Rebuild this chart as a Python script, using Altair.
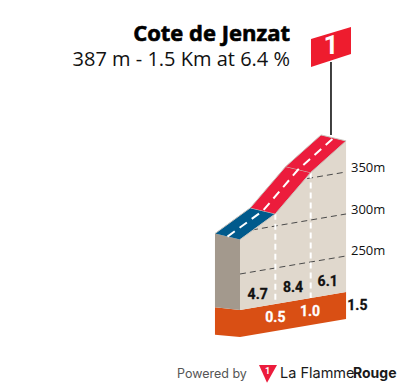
import altair as alt
import pandas as pd

# profile
km = [0, 0.5, 1.0, 1.5]
alt_m = [291, 314.5, 356.5, 387]
grades = ["4.7", "8.4", "6.1"]
km_marks = ["0.5", "1.0"]
total = "1.5"
SKEW = 14.3      # metres of screen rise per km (oblique view)
DX, DY = -0.354, 7.1   # depth offset of the road's back edge
BASE, BOTTOM = 207, 175
RED, BLUE, WALL, SIDE, ORANGE = "#ec1c3c", "#005a8c", "#e0d8cd", "#a3998d", "#d94f14"
H = 375

X = alt.Scale(domain=[-3.2815, 2.2207], range=[0, 389])
Y = alt.Scale(domain=[566.67 - H / 0.84, 566.67], range=[H, 0])


def pts(rows):
    return pd.DataFrame([
        {"i": i, "x": k + d * DX, "y": m + SKEW * k + d * DY}
        for i, (k, m, d) in enumerate(rows)
    ])


def poly(rows, fill, stroke=None, sw=0):
    kw = dict(fill=fill, strokeWidth=sw, stroke=stroke or fill, clip=False)
    return alt.Chart(pts(rows)).mark_line(**kw).encode(
        x=alt.X("x:Q", scale=X, axis=None),
        y=alt.Y("y:Q", scale=Y, axis=None),
        order="i:Q",
    )


def seg(rows, color, dash=None, sw=1.0):
    kw = dict(color=color, strokeWidth=sw)
    if dash:
        kw["strokeDash"] = dash
    return alt.Chart(pts(rows)).mark_line(**kw).encode(
        x=alt.X("x:Q", scale=X, axis=None),
        y=alt.Y("y:Q", scale=Y, axis=None),
        order="i:Q",
    )


def txt(rows, size, color, weight="normal", font="Roboto", align="center", stroke=0):
    df = pd.DataFrame([{"x": k, "y": m + SKEW * k, "t": t} for k, m, t in rows])
    return alt.Chart(df).mark_text(
        fontSize=size, color=color, fontWeight=weight, font=font, align=align, baseline="middle",
        stroke=color, strokeWidth=stroke,
    ).encode(
        x=alt.X("x:Q", scale=X, axis=None),
        y=alt.Y("y:Q", scale=Y, axis=None),
        text="t:N",
    )


layers = []
# orange base
layers.append(poly([(0, BOTTOM, 0), (1.5, BOTTOM, 0), (1.5, BASE, 0), (0, BASE, 0)], ORANGE))
layers.append(poly([(0, BOTTOM, 0), (0, BASE, 0), (0, BASE - 3.6, 1), (0, BOTTOM - 4.5, 1)], ORANGE))
# side wall
layers.append(poly([(0, BASE, 0), (0, alt_m[0], 0), (0, alt_m[0], 1), (0, BASE - 3.6, 1)], SIDE))
# front wall
front = [(0, BASE, 0), (1.5, BASE, 0)] + [(k, m, 0) for k, m in reversed(list(zip(km, alt_m)))]
layers.append(poly(front, WALL))
# grid
for m, start in [(250, 0), (300, 0.17), (350, 0.95)]:
    layers.append(seg([(start, m, 0), (1.5, m, 0)], "#4a4a4a", dash=[6, 4], sw=1))
# km marks on the wall
for i in (1, 2):
    layers.append(seg([(km[i], alt_m[i], 0), (km[i], BASE, 0)], "white", dash=[6, 4], sw=2))
# road
for i, c in enumerate([BLUE, RED, RED]):
    layers.append(poly(
        [(km[i], alt_m[i], 0), (km[i + 1], alt_m[i + 1], 0),
         (km[i + 1], alt_m[i + 1], 1), (km[i], alt_m[i], 1)],
        c, "#c9c4bd", 1,
    ))
layers.append(seg([(k, m, 0.5) for k, m in zip(km, alt_m)], "white", dash=[9, 6], sw=2))
# pole & flag
pole = pd.DataFrame({"x": [1.287, 1.287], "y": [502.4, 415.5], "i": [0, 1]})
layers.append(alt.Chart(pole).mark_line(color="#111111", strokeWidth=1.6).encode(
    x=alt.X("x:Q", scale=X, axis=None), y=alt.Y("y:Q", scale=Y, axis=None), order="i:Q"))
layers.append(poly([(1.004, 529.8 - SKEW * 1.004, 0), (1.57, 544 - SKEW * 1.57, 0),
                    (1.57, 511.9 - SKEW * 1.57, 0), (1.004, 496.4 - SKEW * 1.004, 0)], "#ee1c2e"))
# logo
layers.append(poly([(0.269, 141.7 - SKEW * 0.269, 0), (0.523, 141.7 - SKEW * 0.523, 0),
                    (0.382, 120.5 - SKEW * 0.382, 0)], "#ec1c3c"))

# labels
layers.append(txt([(0.25, 207 + 15, grades[0]), (0.75, 207 + 16, grades[1]), (1.24, 207 + 16, grades[2])],
                  14, "#111111", "bold", "Roboto", stroke=0.3))
layers.append(txt([(0.5, 207 - 17, km_marks[0]), (0.99, 207 - 16, km_marks[1])],
                  14, "white", "bold", "Roboto", stroke=0.3))
layers.append(txt([(1.66, 207 - 19, total)], 14, "#111111", "bold", "Roboto", stroke=0.3))
layers.append(txt([(1.57, 250 + 5, "250m"), (1.57, 300 + 4, "300m"), (1.57, 350 + 3.5, "350m")],
                  13, "#111111", "normal", "Open Sans", "left"))


def label(text, xp, yp, size, color, weight="normal", font="Open Sans", align="left", stroke=0):
    return alt.Chart(pd.DataFrame({"t": [text]})).mark_text(
        fontSize=size, color=color, fontWeight=weight, font=font, align=align, baseline="middle",
        stroke=color, strokeWidth=stroke,
    ).encode(x=alt.value(xp - 8), y=alt.value(yp - 8), text="t:N")


layers.append(label("Cote de Jenzat", 290, 33.5, 22, "#000000", "bold", align="right", stroke=0.6))
layers.append(label("387 m - 1.5 Km at 6.4 %", 290, 60, 20, "#111111", align="right"))
layers.append(label("1", 331, 46, 26, "#ffffff", "bold", "Roboto", "center"))
layers.append(label("Powered by", 177, 374, 12.5, "#555555", font="Inter"))
layers.append(label("1", 267.5, 371, 9, "#ffffff", "bold", "Roboto", "center"))
layers.append(label("La Flamme", 280, 374, 14.5, "#1a1a1a", font="Inter"))
layers.append(label("Rouge", 396.5, 374, 14, "#1a1a1a", "bold", font="Inter", align="right"))

chart = alt.layer(*layers).properties(
    width=389, height=H, padding=0, background="white",
    autosize=alt.AutoSizeParams(type="none"),
).configure_view(strokeWidth=0)
chart.save("out.html", embed_options={"renderer": "svg", "actions": False})
